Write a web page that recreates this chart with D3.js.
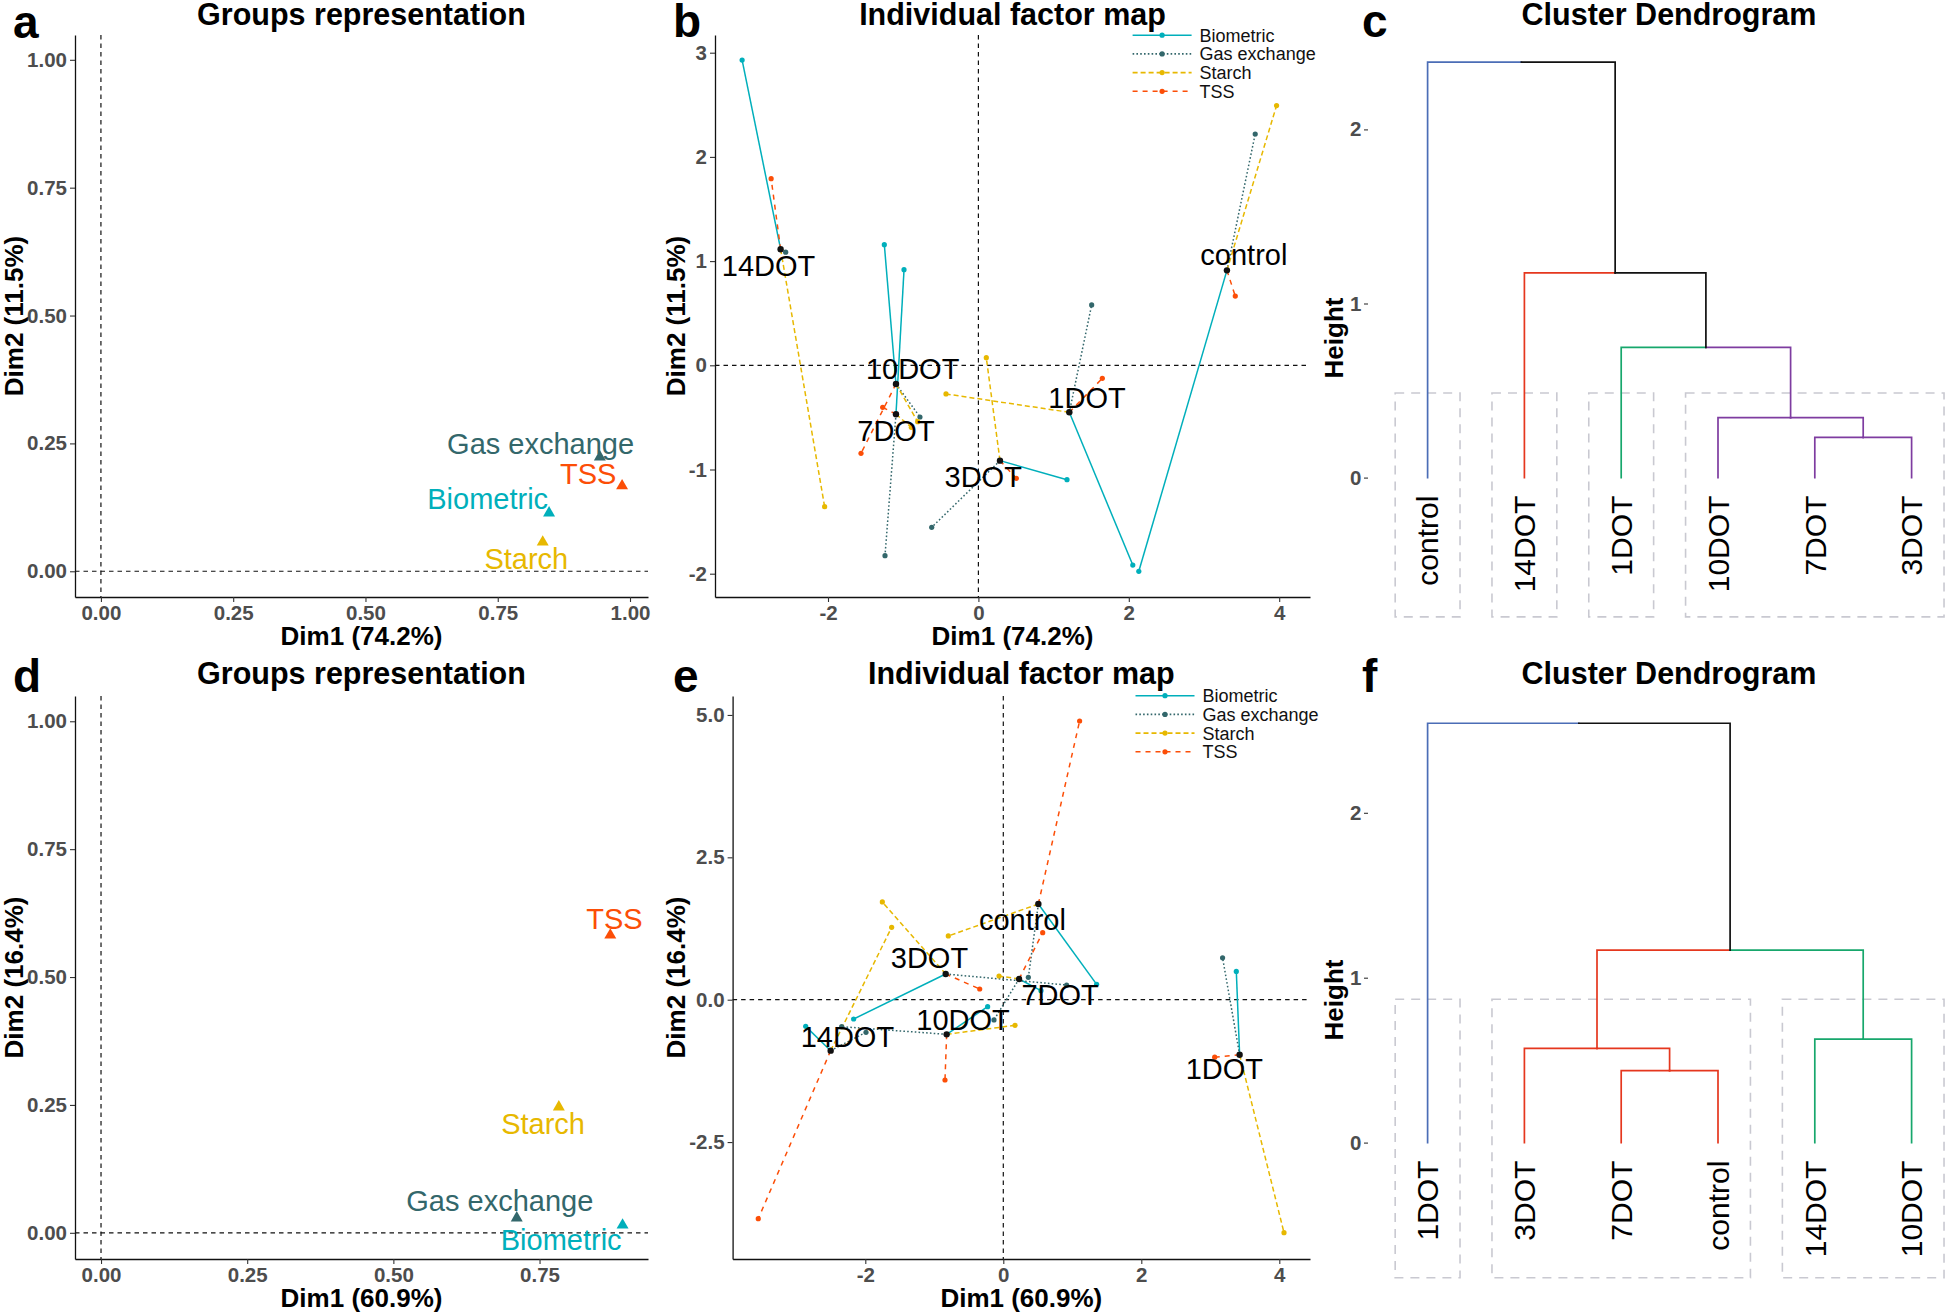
<!DOCTYPE html>
<html><head><meta charset="utf-8">
<script src="https://cdn.jsdelivr.net/npm/d3@7"></script>
<style>
body{margin:0;background:#fff;}
svg{display:block;font-family:"Liberation Sans",Arial,Helvetica,sans-serif;}
</style></head><body>
<svg id="chart" width="1946" height="1313"></svg>
<script>
// ---------------- DATA ----------------
const groupNames = ["Biometric", "Gas exchange", "Starch", "TSS"];

// Panel a: groups representation (Dim1 74.2%, Dim2 11.5%)
const grpA_dim1 = [0.847, 0.943, 0.835, 0.985];
const grpA_dim2 = [0.116, 0.2255, 0.059, 0.169];
const grpA_labelDim1 = [0.731, 0.831, 0.804, 0.921];
const grpA_labelDim2 = [0.122, 0.229, 0.005, 0.170];

// Panel d: groups representation (Dim1 60.9%, Dim2 16.4%)
const grpD_dim1 = [0.892, 0.711, 0.783, 0.871];
const grpD_dim2 = [0.017, 0.031, 0.248, 0.584];
const grpD_labelDim1 = [0.787, 0.682, 0.756, 0.878];
const grpD_labelDim2 = [-0.033, 0.042, 0.194, 0.594];

const scatterTicks01 = [0, 0.25, 0.5, 0.75, 1];
const scatterTicks01Labels = ["0.00", "0.25", "0.50", "0.75", "1.00"];

// Individuals (same order in both factor maps)
const individuals = ["control", "1DOT", "3DOT", "7DOT", "10DOT", "14DOT"];

// Panel b: individual factor map
const indB_dim1 = [3.305, 1.209, 0.287, -1.096, -1.096, -2.630];
const indB_dim2 = [0.911, -0.451, -0.915, -0.470, -0.179, 1.114];
const bioB_dim1 = [2.133, 2.053, 1.178, -0.989, -1.251, -3.142];
const bioB_dim2 = [-1.977, -1.917, -1.098, 0.918, 1.158, 2.929];
const gasB_dim1 = [3.681, 1.506, -0.621, -1.242, -0.777, -2.563];
const gasB_dim2 = [2.220, 0.579, -1.555, -1.827, -0.496, 1.086];
const starchB_dim1 = [3.965, -0.431, 0.105, -0.892, -0.808, -2.045];
const starchB_dim2 = [2.493, -0.275, 0.073, -0.595, -0.541, -1.357];
const tssB_dim1 = [3.416, 1.648, 0.504, -1.273, -1.561, -2.756];
const tssB_dim2 = [0.664, -0.125, -1.085, -0.403, -0.845, 1.791];
const labB_dim1 = [3.53, 1.444, 0.064, -1.096, -0.874, -2.79];
const labB_dim2 = [0.96, -0.405, -1.169, -0.731, -0.135, 0.86];
const ticksB_x = [-2, 0, 2, 4];
const ticksB_y = [-2, -1, 0, 1, 2, 3];

// Panel e: individual factor map
const indE_dim1 = [0.508, 3.425, -0.835, 0.228, -0.821, -2.502];
const indE_dim2 = [1.680, -0.966, 0.451, 0.363, -0.608, -0.895];
const bioE_dim1 = [1.353, 3.377, -2.169, 0.546, -0.227, -2.864];
const bioE_dim2 = [0.270, 0.497, -0.339, 0.159, -0.122, -0.468];
const gasE_dim1 = [0.363, 3.178, 0.918, -0.135, -2.342, -1.990];
const gasE_dim2 = [0.393, 0.736, 0.258, -0.356, -0.474, -0.573];
const starchE_dim1 = [-0.797, 4.068, -1.753, -0.062, 0.170, -1.618];
const starchE_dim2 = [1.119, -4.090, 1.716, 0.416, -0.450, 1.271];
const tssE_dim1 = [1.106, 3.064, -0.342, 0.571, -0.845, -3.551];
const tssE_dim2 = [4.894, -1.010, 0.188, 1.177, -1.410, -3.845];
const labE_dim1 = [0.277, 3.203, -1.07, 0.823, -0.583, -2.259];
const labE_dim2 = [1.226, -1.396, 0.557, -0.097, -0.527, -0.824];
const ticksE_x = [-2, 0, 2, 4];
const ticksE_y = [-2.5, 0, 2.5, 5];
const ticksE_yLabels = ["-2.5", "0.0", "2.5", "5.0"];

// Panel c: dendrogram (leaves in display order, hclust-style merges)
const dendC_leaves = ["control", "14DOT", "1DOT", "10DOT", "7DOT", "3DOT"];
const dendC_cluster = [1, 2, 3, 4, 4, 4];
const dendC_mergeLeft = [-5, -4, -3, -2, -1];
const dendC_mergeRight = [-6, 1, 2, 3, 4];
const dendC_height = [0.231, 0.345, 0.748, 1.176, 2.386];
const dendC_rectTop = 0.486;
const dendC_rectBottom = -0.80;

// Panel f: dendrogram
const dendF_leaves = ["1DOT", "3DOT", "7DOT", "control", "14DOT", "10DOT"];
const dendF_cluster = [1, 2, 2, 2, 3, 3];
const dendF_mergeLeft = [-3, -2, -5, 2, -1];
const dendF_mergeRight = [-4, 1, -6, 3, 4];
const dendF_height = [0.436, 0.572, 0.628, 1.167, 2.543];
const dendF_rectTop = 0.869;
const dendF_rectBottom = -0.82;
const dendTicks = [0, 1, 2];

// ---------------- STYLE ----------------
const groupColor = {"Biometric": "#00AFBB", "Gas exchange": "#33676B", "Starch": "#E7B800", "TSS": "#FC4E07"};
const groupDash = {"Biometric": null, "Gas exchange": "1.6,2.2", "Starch": "5,3", "TSS": "5,5"};
const clusterColor = {1: "#4B6DB6", 2: "#E5371E", 3: "#17A76C", 4: "#7E3CA0"};
const tickGrey = "#4D4D4D";
const plain = d => String(d);

const svg = d3.select("#chart");
svg.append("rect").attr("width", 1946).attr("height", 1313).attr("fill", "#fff");

function txt(g, s, x, y, o = {}) {
  const t = g.append("text").attr("x", x).attr("y", y).text(s)
    .attr("font-size", o.size || 20).attr("fill", o.fill || "#000")
    .attr("font-weight", o.bold ? "bold" : "normal")
    .attr("text-anchor", o.anchor || "start");
  if (o.rotate) t.attr("transform", `rotate(${o.rotate},${x},${y})`);
  if (o.dy) t.attr("dy", o.dy);
  return t;
}

function styleAxis(sel) {
  sel.select(".domain").attr("stroke", "#111").attr("stroke-width", 1.3);
  sel.selectAll(".tick line").attr("stroke", "#333").attr("stroke-width", 1.1);
  sel.selectAll(".tick text").attr("fill", tickGrey).attr("font-size", 20.5)
    .attr("font-weight", "bold").attr("font-family", "Liberation Sans, Arial, sans-serif");
}

function frame(o) {
  const g = svg.append("g");
  const x = d3.scaleLinear().domain(o.xDomain).range([o.left, o.right]);
  const y = d3.scaleLinear().domain(o.yDomain).range([o.bottom, o.top]);
  // zero reference lines
  g.append("line").attr("x1", x(0)).attr("x2", x(0)).attr("y1", o.top).attr("y2", o.bottom)
    .attr("stroke", "#111").attr("stroke-width", 1.2).attr("stroke-dasharray", "4.5,4");
  g.append("line").attr("x1", o.left).attr("x2", o.right).attr("y1", y(0)).attr("y2", y(0))
    .attr("stroke", "#111").attr("stroke-width", 1.2).attr("stroke-dasharray", "4.5,4");
  const ax = d3.axisBottom(x).tickValues(o.xTicks).tickSize(5).tickPadding(3).tickSizeOuter(0)
    .tickFormat(o.xFmt || plain);
  const ay = d3.axisLeft(y).tickValues(o.yTicks).tickSize(5).tickPadding(3).tickSizeOuter(0)
    .tickFormat(o.yFmt || plain);
  g.append("g").attr("transform", `translate(0,${o.bottom})`).call(ax).call(styleAxis);
  g.append("g").attr("transform", `translate(${o.left},0)`).call(ay).call(styleAxis);
  // titles
  const cx = (o.left + o.right) / 2, cy = (o.top + o.bottom) / 2;
  txt(g, o.title, cx, o.titleY, {size: 30.5, bold: true, anchor: "middle"});
  txt(g, o.xTitle, cx, o.xTitleY, {size: 26, bold: true, anchor: "middle"});
  txt(g, o.yTitle, o.yTitleX, cy, {size: 26, bold: true, anchor: "middle", rotate: -90});
  txt(g, o.panel, o.panelX, o.panelY, {size: 46, bold: true});
  return {g, x, y};
}

function fmtLabels(vals, labels) { return d => labels[vals.indexOf(d)]; }

// ---------- Groups representation panels ----------
function groupsPanel(o, d1, d2, l1, l2) {
  const {g, x, y} = frame(o);
  const tri = d3.symbol().type(d3.symbolTriangle).size(62);
  groupNames.forEach((name, i) => {
    g.append("path").attr("d", tri).attr("fill", groupColor[name])
      .attr("transform", `translate(${x(d1[i])},${y(d2[i]) + 1})`);
  });
  groupNames.forEach((name, i) => {
    txt(g, name, x(l1[i]), y(l2[i]), {size: 29, anchor: "middle", fill: groupColor[name]});
  });
}

groupsPanel({
  left: 75, right: 648, top: 35, bottom: 597,
  xDomain: [-0.049, 1.034], yDomain: [-0.0503, 1.0485],
  xTicks: scatterTicks01, yTicks: scatterTicks01,
  xFmt: fmtLabels(scatterTicks01, scatterTicks01Labels), yFmt: fmtLabels(scatterTicks01, scatterTicks01Labels),
  title: "Groups representation", titleY: 25,
  xTitle: "Dim1 (74.2%)", xTitleY: 645, yTitle: "Dim2 (11.5%)", yTitleX: 23,
  panel: "a", panelX: 13, panelY: 38
}, grpA_dim1, grpA_dim2, grpA_labelDim1, grpA_labelDim2);

groupsPanel({
  left: 75, right: 648, top: 696, bottom: 1259,
  xDomain: [-0.0445, 0.9355], yDomain: [-0.0512, 1.0494],
  xTicks: scatterTicks01.slice(0, 4), yTicks: scatterTicks01,
  xFmt: fmtLabels(scatterTicks01, scatterTicks01Labels), yFmt: fmtLabels(scatterTicks01, scatterTicks01Labels),
  title: "Groups representation", titleY: 684,
  xTitle: "Dim1 (60.9%)", xTitleY: 1307, yTitle: "Dim2 (16.4%)", yTitleX: 23,
  panel: "d", panelX: 13, panelY: 692
}, grpD_dim1, grpD_dim2, grpD_labelDim1, grpD_labelDim2);

// ---------- Individual factor map panels ----------
function indPanel(o, m1, m2, parts, l1, l2, legend) {
  const {g, x, y} = frame(o);
  const gl = g.append("g");
  groupNames.forEach((name, gi) => {
    const p = parts[gi];
    individuals.forEach((ind, i) => {
      gl.append("line").attr("x1", x(m1[i])).attr("y1", y(m2[i]))
        .attr("x2", x(p[0][i])).attr("y2", y(p[1][i]))
        .attr("stroke", groupColor[name]).attr("stroke-width", 1.5)
        .attr("stroke-dasharray", groupDash[name]);
    });
  });
  groupNames.forEach((name, gi) => {
    const p = parts[gi];
    individuals.forEach((ind, i) => {
      gl.append("circle").attr("cx", x(p[0][i])).attr("cy", y(p[1][i])).attr("r", 2.6)
        .attr("fill", groupColor[name]);
    });
  });
  individuals.forEach((ind, i) => {
    gl.append("circle").attr("cx", x(m1[i])).attr("cy", y(m2[i])).attr("r", 3.2).attr("fill", "#111");
  });
  individuals.forEach((ind, i) => {
    txt(g, ind, x(l1[i]), y(l2[i]), {size: 29, anchor: "middle", fill: "#000"});
  });
  // legend
  const lg = g.append("g");
  groupNames.forEach((name, i) => {
    const yy = legend.y + i * 18.7;
    lg.append("line").attr("x1", legend.x).attr("x2", legend.x + 59).attr("y1", yy).attr("y2", yy)
      .attr("stroke", groupColor[name]).attr("stroke-width", 1.6).attr("stroke-dasharray", groupDash[name]);
    lg.append("circle").attr("cx", legend.x + 29.5).attr("cy", yy).attr("r", 2.6).attr("fill", groupColor[name]);
    txt(lg, name, legend.x + 67, yy, {size: 18, dy: "0.36em", fill: "#111"});
  });
}

indPanel({
  left: 715, right: 1310, top: 35, bottom: 597,
  xDomain: [(715 - 978.4) / 75.2, (1310 - 978.4) / 75.2], yDomain: [(365.3 - 597) / 104.2, (365.3 - 35) / 104.2],
  xTicks: ticksB_x, yTicks: ticksB_y,
  title: "Individual factor map", titleY: 25,
  xTitle: "Dim1 (74.2%)", xTitleY: 645, yTitle: "Dim2 (11.5%)", yTitleX: 685,
  panel: "b", panelX: 673, panelY: 37
}, indB_dim1, indB_dim2,
  [[bioB_dim1, bioB_dim2], [gasB_dim1, gasB_dim2], [starchB_dim1, starchB_dim2], [tssB_dim1, tssB_dim2]],
  labB_dim1, labB_dim2, {x: 1132.6, y: 35.2});

indPanel({
  left: 732.6, right: 1310, top: 696, bottom: 1259,
  xDomain: [(732.6 - 1003.3) / 69, (1310 - 1003.3) / 69], yDomain: [(999.7 - 1259) / 56.95, (999.7 - 696) / 56.95],
  xTicks: ticksE_x, yTicks: ticksE_y, yFmt: fmtLabels(ticksE_y, ticksE_yLabels),
  title: "Individual factor map", titleY: 684,
  xTitle: "Dim1 (60.9%)", xTitleY: 1307, yTitle: "Dim2 (16.4%)", yTitleX: 685,
  panel: "e", panelX: 673, panelY: 692
}, indE_dim1, indE_dim2,
  [[bioE_dim1, bioE_dim2], [gasE_dim1, gasE_dim2], [starchE_dim1, starchE_dim2], [tssE_dim1, tssE_dim2]],
  labE_dim1, labE_dim2, {x: 1135.5, y: 695.7});

// ---------- Dendrograms ----------
function dendro(o, leaves, cluster, mL, mR, hts, rectTop, rectBottom) {
  const g = svg.append("g");
  const x = d3.scaleLinear().domain([1, leaves.length]).range([1427.6, 1911.6]);
  const y = d3.scaleLinear().domain([0, 2]).range([o.zeroY, o.zeroY - 2 * o.unit]);
  // cluster rectangles
  const clusters = Array.from(new Set(cluster));
  clusters.forEach(c => {
    const idx = cluster.map((v, i) => v === c ? i + 1 : null).filter(v => v !== null);
    const x0 = x(d3.min(idx) - 0.335), x1 = x(d3.max(idx) + 0.335);
    g.append("rect").attr("x", x0).attr("y", y(rectTop)).attr("width", x1 - x0)
      .attr("height", y(rectBottom) - y(rectTop)).attr("fill", "none")
      .attr("stroke", "#C9C9D1").attr("stroke-width", 1.6).attr("stroke-dasharray", "9,7");
  });
  const nodes = [];
  function info(k) {
    if (k < 0) return {x: x(-k), h: 0, members: [-k - 1]};
    return nodes[k - 1];
  }
  hts.forEach((h, j) => {
    const a = info(mL[j]), b = info(mR[j]);
    nodes.push({x: (a.x + b.x) / 2, h: h, members: a.members.concat(b.members)});
  });
  function colorOf(n) {
    const cs = new Set(n.members.map(i => cluster[i]));
    return cs.size === 1 ? clusterColor[[...cs][0]] : "#111";
  }
  hts.forEach((h, j) => {
    const node = nodes[j];
    [info(mL[j]), info(mR[j])].forEach(ch => {
      g.append("path")
        .attr("d", `M${node.x},${y(h)}H${ch.x}V${y(ch.h)}`)
        .attr("fill", "none").attr("stroke", colorOf(ch)).attr("stroke-width", 1.7)
        .attr("stroke-linejoin", "miter").attr("stroke-linecap", "square");
    });
  });
  leaves.forEach((lab, i) => {
    txt(g, lab, x(i + 1), o.zeroY + 18, {size: 30, anchor: "end", rotate: -90, dy: "0.36em"});
  });
  const ay = d3.axisLeft(y).tickValues(dendTicks).tickSize(4).tickPadding(2.5).tickFormat(plain);
  const ag = g.append("g").attr("transform", `translate(1368,0)`).call(ay).call(styleAxis);
  ag.select(".domain").remove();
  txt(g, "Height", 1334, o.heightY, {size: 26, bold: true, anchor: "middle", rotate: -90, dy: "0.36em"});
  txt(g, "Cluster Dendrogram", 1669, o.titleY, {size: 30.5, bold: true, anchor: "middle"});
  txt(g, o.panel, 1362, o.panelY, {size: 46, bold: true});
}

dendro({zeroY: 477.6, unit: 174.1, heightY: 338, titleY: 25, panel: "c", panelY: 37},
  dendC_leaves, dendC_cluster, dendC_mergeLeft, dendC_mergeRight, dendC_height, dendC_rectTop, dendC_rectBottom);
dendro({zeroY: 1142.6, unit: 164.9, heightY: 1000, titleY: 684, panel: "f", panelY: 692},
  dendF_leaves, dendF_cluster, dendF_mergeLeft, dendF_mergeRight, dendF_height, dendF_rectTop, dendF_rectBottom);
</script>
</body></html>
